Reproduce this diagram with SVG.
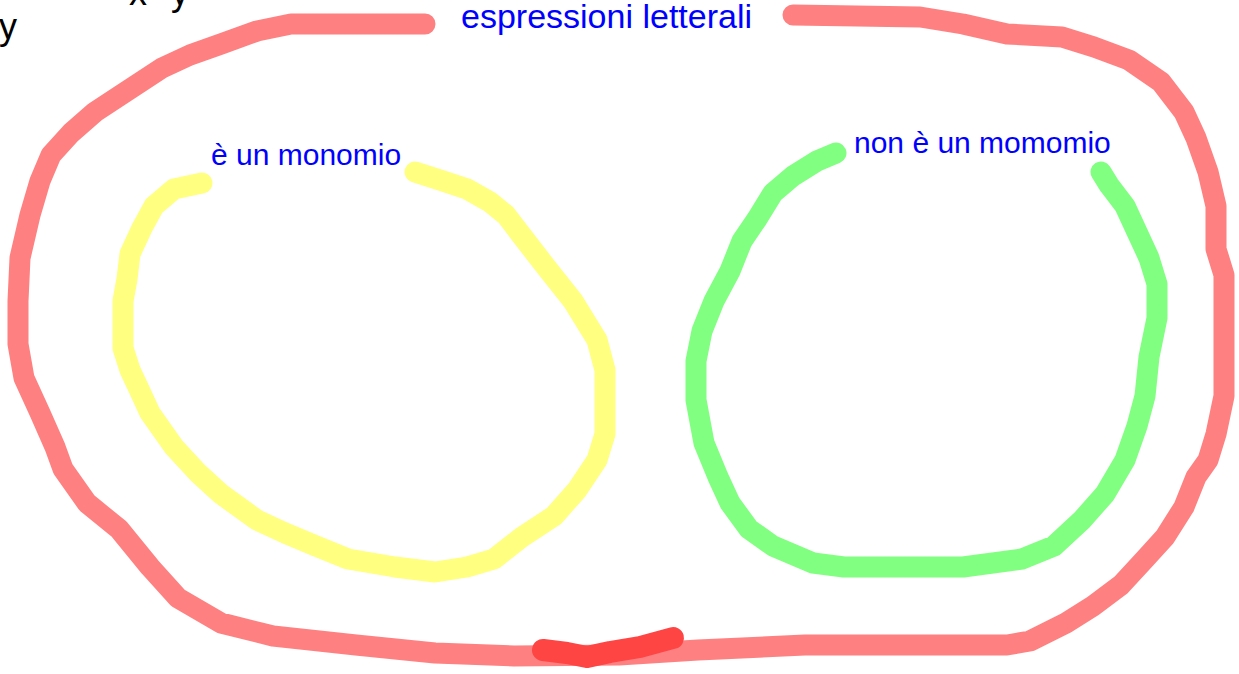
<svg xmlns="http://www.w3.org/2000/svg" width="1239" height="674" viewBox="0 0 1239 674">
<style>
.stroke{fill:none;stroke-width:21;stroke-linecap:round;stroke-linejoin:round}
.red{stroke:#ff8080}
.dark{stroke:#ff4444;stroke-width:22}
.yellow{stroke:#ffff80}
.green{stroke:#80ff80}
.lbl{font-family:"Liberation Sans",Arial,sans-serif;fill:#0000ff}
.blk{font-family:"Liberation Sans",Arial,sans-serif;fill:#000000;font-size:36px}
</style>
<rect width="1239" height="674" fill="#ffffff"/>
<g id="connectors">
<polyline class="stroke red" points="425,24 291,24 257,31 221,44 190,55 162,68 130,89 95,112 71,133 51,155 40,181 30,215 20,258 18,301 18,344 24,378 40,413 55,447 63,469 87,503 119,529 150,567 178,598 221,623 273,636 356,645 435,653 514,656 619,655 698,650 805,645 892,645 1007,645 1030,641 1066,623 1093,606 1121,585 1145,559 1165,537 1184,507 1196,477 1208,460 1216,434 1224,396 1224,275 1216,249 1216,206 1208,172 1196,138 1184,112 1161,82 1129,60 1094,47 1062,37 1007,34 963,24 920,17 793,15"/>
<polyline class="stroke dark" points="543,650 567,653 587,657 610,652 640,647 673,638"/>
</g>
<g id="node-monomio">
<polyline class="stroke yellow" points="202,183 174,189 154,206 142,228 130,254 127,279 123,301 123,348 130,370 138,387 150,413 174,447 198,473 221,494 257,520 285,533 316,546 348,559 395,567 435,572 467,567 494,559 522,537 554,516 577,490 597,460 605,434 605,370 597,340 573,301 546,267 522,236 506,215 490,202 467,189 443,181 415,172"/>
<text class="lbl" x="211" y="165" font-size="30">è un monomio</text>
</g>
<g id="node-non-monomio">
<polyline class="stroke green" points="836,153 817,161 793,176 773,193 757,219 742,241 730,271 714,301 702,331 696,361 696,400 704,443 718,477 730,503 749,529 773,546 813,563 844,567 963,567 1022,559 1054,546 1082,520 1105,494 1125,460 1137,426 1145,396 1149,357 1157,318 1157,284 1149,258 1137,232 1125,206 1109,185 1101,172"/>
<text class="lbl" x="854" y="153" font-size="30">non è un momomio</text>
</g>
<g id="node-title">
<text class="lbl" x="461" y="28" font-size="34">espressioni letterali</text>
</g>
<g id="stray-text">
<text class="blk" x="-1" y="39">y</text>
<text class="blk" x="129" y="5">x</text>
<text class="blk" x="171" y="5">y</text>
</g>
</svg>
